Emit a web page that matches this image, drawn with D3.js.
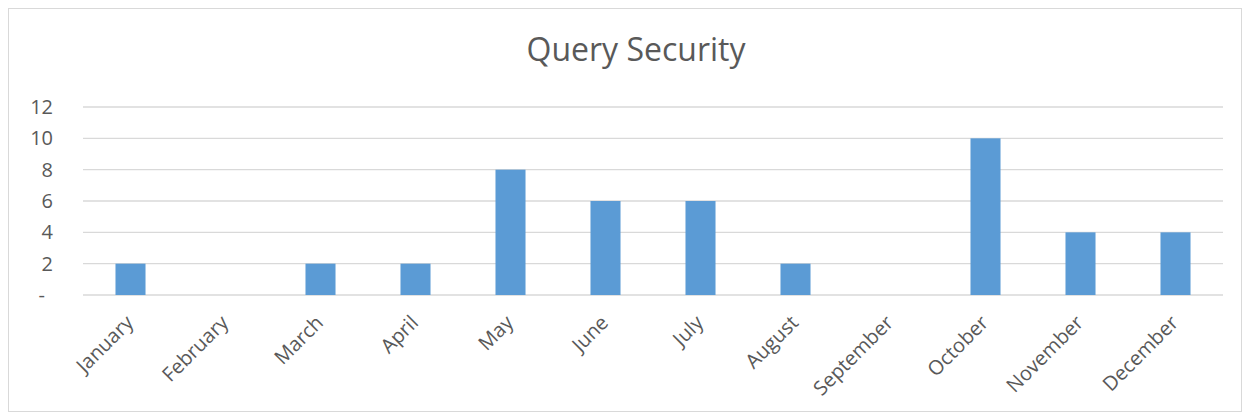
<!doctype html>
<html lang="en">
<head>
<meta charset="UTF-8">
<title>Query Security</title>
<script src="https://d3js.org/d3.v7.min.js"></script>
<style>
    body { margin: 0; background: #fff; }
    text { font-family: 'Open Sans', sans-serif; fill: #595959; }
    .grid line { stroke: #d9d9d9; stroke-width: 1.3px; }
</style>
</head>
<body>
<script>
// chart data
const months = ['January', 'February', 'March', 'April', 'May', 'June',
                'July', 'August', 'September', 'October', 'November', 'December'];
const counts = [2, 0, 2, 2, 8, 6, 6, 2, 0, 10, 4, 4];
const yTicks = [0, 2, 4, 6, 8, 10, 12];
const yTickLabels = ['-', '2', '4', '6', '8', '10', '12'];

const width = 1250,
      height = 418;

const margin = {top: 107, right: 27, bottom: 123, left: 83};

const svg = d3.select('body').append('svg')
    .attr('width', width)
    .attr('height', height);

// outer frame
svg.append('rect')
    .attr('x', 8.5).attr('y', 8.5)
    .attr('width', 1233).attr('height', 403)
    .attr('fill', '#fff')
    .attr('stroke', '#d9d9d9')
    .attr('stroke-width', 1);

const x = d3.scaleBand()
    .domain(months)
    .range([margin.left, width - margin.right])
    .paddingInner(0.684)
    .paddingOuter(0.342);

const y = d3.scaleLinear()
    .domain([0, 12])
    .range([height - margin.bottom, margin.top]);

// gridlines
svg.append('g')
    .attr('class', 'grid')
    .selectAll('line')
    .data(yTicks)
    .enter().append('line')
    .attr('x1', margin.left)
    .attr('x2', width - margin.right)
    .attr('y1', d => y(d))
    .attr('y2', d => y(d));

// y labels
svg.append('g')
    .selectAll('text')
    .data(yTicks)
    .enter().append('text')
    .attr('x', d => d === 0 ? 45 : 53)
    .attr('y', d => y(d))
    .attr('dy', '.35em')
    .attr('text-anchor', 'end')
    .style('font-size', '20px')
    .text((d, i) => yTickLabels[i]);

// bars
svg.append('g')
    .selectAll('rect')
    .data(counts)
    .enter().append('rect')
    .attr('x', (d, i) => x(months[i]))
    .attr('y', d => y(d))
    .attr('width', x.bandwidth())
    .attr('height', d => y(0) - y(d))
    .attr('fill', '#5b9bd5');

// month labels
svg.append('g')
    .selectAll('text')
    .data(months)
    .enter().append('text')
    .attr('text-anchor', 'end')
    .attr('transform', d => 'translate(' + (x(d) + x.bandwidth() / 2 + 4) + ',' + (y(0) + 29) + ') rotate(-45)')
    .style('font-size', '20px')
    .text(d => d);

// title
svg.append('text')
    .attr('x', 636)
    .attr('y', 61)
    .attr('text-anchor', 'middle')
    .style('font-size', '32px')
    .text('Query Security');
</script>
</body>
</html>
